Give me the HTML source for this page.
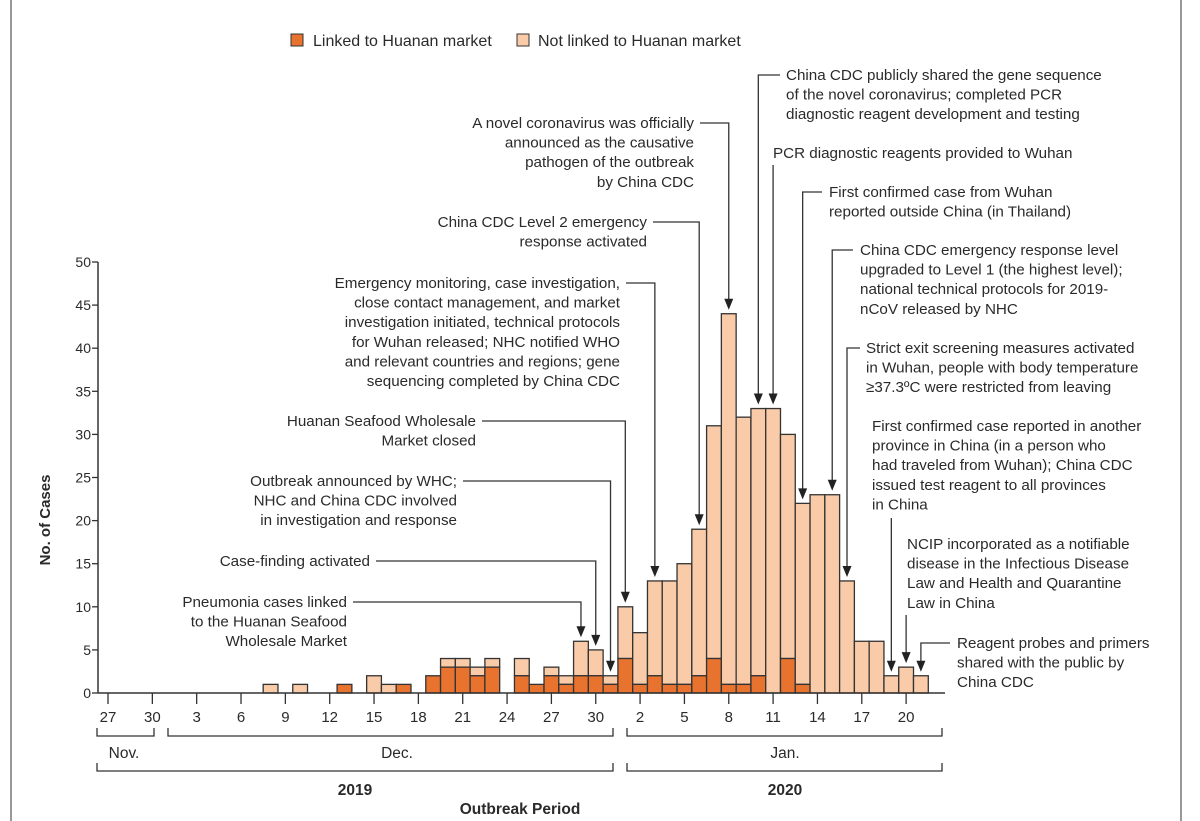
<!DOCTYPE html>
<html><head><meta charset="utf-8">
<style>
html,body{margin:0;padding:0;background:#fff;}
svg{display:block;font-family:"Liberation Sans",sans-serif;}
text{fill:#2a2a2a;}
</style></head>
<body>
<svg id="chart" width="1200" height="821" viewBox="0 0 1200 821">
  <line x1="11" y1="0" x2="11" y2="821" stroke="#777" stroke-width="1.5"/>
  <line x1="1181" y1="0" x2="1181" y2="821" stroke="#777" stroke-width="1.5"/>
  <g>
    <rect x="291" y="34" width="12" height="12" fill="#e8732f" stroke="#333"/>
    <text x="313" y="46" font-size="16">Linked to Huanan market</text>
    <rect x="517" y="34" width="12" height="12" fill="#f9cba8" stroke="#333"/>
    <text x="538" y="46" font-size="16">Not linked to Huanan market</text>
  </g>
  <g id="bars"></g>
  <g id="axes"></g>
  <g id="notes"></g>
  <text transform="translate(50,520) rotate(-90)" text-anchor="middle" font-size="15" font-weight="bold">No. of Cases</text>
  <text x="520" y="814" text-anchor="middle" font-size="15.5" font-weight="bold">Outbreak Period</text>
</svg>
<script>
const dates = ["2019-12-08","2019-12-10","2019-12-13","2019-12-15","2019-12-16","2019-12-17","2019-12-19","2019-12-20","2019-12-21","2019-12-22","2019-12-23","2019-12-25","2019-12-26","2019-12-27","2019-12-28","2019-12-29","2019-12-30","2019-12-31","2020-01-01","2020-01-02","2020-01-03","2020-01-04","2020-01-05","2020-01-06","2020-01-07","2020-01-08","2020-01-09","2020-01-10","2020-01-11","2020-01-12","2020-01-13","2020-01-14","2020-01-15","2020-01-16","2020-01-17","2020-01-18","2020-01-19","2020-01-20","2020-01-21"];
const linked = [0,0,1,0,0,1,2,3,3,2,3,2,1,2,1,2,2,1,4,1,2,1,1,2,4,1,1,2,0,4,1,0,0,0,0,0,0,0,0];
const totals = [1,1,1,2,1,1,2,4,4,3,4,4,1,3,2,6,5,2,10,7,13,13,15,19,31,44,32,33,33,30,22,23,23,13,6,6,2,3,2];
const yTicks = [0,5,10,15,20,25,30,35,40,45,50];
const xTickLabels = ["27","30","3","6","9","12","15","18","21","24","27","30","2","5","8","11","14","17","20"];
const xTickDates = ["2019-11-27","2019-11-30","2019-12-03","2019-12-06","2019-12-09","2019-12-12","2019-12-15","2019-12-18","2019-12-21","2019-12-24","2019-12-27","2019-12-30","2020-01-02","2020-01-05","2020-01-08","2020-01-11","2020-01-14","2020-01-17","2020-01-20"];

const NS="http://www.w3.org/2000/svg";
const X0=108, DAY=14.78, Y0=693, YU=8.62;
const origin=Date.UTC(2019,10,27);
function dayIdx(s){const p=s.split("-");return Math.round((Date.UTC(+p[0],+p[1]-1,+p[2])-origin)/86400000);}
function xs(s){return X0+DAY*dayIdx(s);}
function ys(v){return Y0-v*YU;}
function mk(tag,attrs,parent){const e=document.createElementNS(NS,tag);for(const k in attrs)e.setAttribute(k,attrs[k]);parent.appendChild(e);return e;}

const bars=document.getElementById("bars");
dates.forEach((d,i)=>{
  const cx=xs(d), l=cx-DAY/2;
  if(totals[i]>linked[i]){
    const r=mk("rect",{x:l,y:ys(totals[i]),width:DAY,height:(totals[i]-linked[i])*YU,fill:"#f9cba8",stroke:"#333","stroke-width":1.3},bars);
    
    
  }
  if(linked[i]>0){
    const r=mk("rect",{x:l,y:ys(linked[i]),width:DAY,height:linked[i]*YU,fill:"#e8732f",stroke:"#333","stroke-width":1.3},bars);
    
    
  }
});

const axes=document.getElementById("axes");
let a=mk("line",{x1:98,y1:ys(50),x2:98,y2:Y0,stroke:"#333","stroke-width":1.5},axes);


a=mk("line",{x1:98,y1:Y0,x2:945,y2:Y0,stroke:"#333","stroke-width":1.5},axes);


yTicks.forEach(v=>{
  const t=mk("line",{x1:92,y1:ys(v),x2:98,y2:ys(v),stroke:"#333","stroke-width":1.3},axes);
  
  
  const tx=mk("text",{x:91,y:ys(v)+5,"text-anchor":"end","font-size":14},axes);
  tx.textContent=v;
  
  
});
xTickDates.forEach((d,i)=>{
  const t=mk("line",{x1:xs(d),y1:Y0,x2:xs(d),y2:Y0+11,stroke:"#333","stroke-width":1.3},axes);
  
  
  const tx=mk("text",{x:xs(d),y:Y0+29,"text-anchor":"middle","font-size":15},axes);
  tx.textContent=xTickLabels[i];
  
  
});
function bracket(x1,x2,y,name){
  const p=mk("path",{d:`M${x1},${y-8}V${y}H${x2}V${y-8}`,fill:"none",stroke:"#333","stroke-width":1.3},axes);
  
  
}
bracket(97,154,736,'bracket-nov');bracket(168,613,736,'bracket-dec');bracket(627,942,736,'bracket-jan');
bracket(97,613,771,'bracket-2019');bracket(627,942,771,'bracket-2020');
[["Nov.",124,758,"normal","month-label-nov"],["Dec.",397,758,"normal","month-label-dec"],["Jan.",785,758,"normal","month-label-jan"],["2019",355,795,"bold","year-label-2019"],["2020",785,795,"bold","year-label-2020"]].forEach(m=>{
  const tx=mk("text",{x:m[1],y:m[2],"text-anchor":"middle","font-size":15.5,"font-weight":m[3]},axes);
  tx.textContent=m[0];
  
  
});

const notes=document.getElementById("notes");
const LH=19.6;
function arrowTo(x,yTip,g){
  mk("path",{d:`M${x-4.5},${yTip-11}L${x+4.5},${yTip-11}L${x},${yTip}Z`,fill:"#222"},g);
}
function note(name,lines,side,tx,ty,date,lineY,startX){
  const g=mk("g",{},notes);
  
  
  lines.forEach((s,i)=>{
    const t=mk("text",{x:tx,y:ty+i*LH,"font-size":15.2,"text-anchor":side==="left"?"end":"start"},g);
    t.textContent=s;
  });
  const i=dates.indexOf(date);
  const ax=xs(date), tip=ys(totals[i])-4;
  let d;
  if(lineY===null){d=`M${ax},${startX}V${tip-10}`;}
  else{d=`M${startX},${lineY}H${ax}V${tip-10}`;}
  mk("path",{d:d,fill:"none",stroke:"#333","stroke-width":1.3},g);
  arrowTo(ax,tip,g);
}
note("note-novel-coronavirus",["A novel coronavirus was officially","announced as the causative","pathogen of the outbreak","by China CDC"],"left",694,128,"2020-01-08",123,700);
note("note-level2",["China CDC Level 2 emergency","response activated"],"left",647,227,"2020-01-06",222,653);
note("note-emergency-monitoring",["Emergency monitoring, case investigation,","close contact management, and market","investigation initiated, technical protocols","for Wuhan released; NHC notified WHO","and relevant countries and regions; gene","sequencing completed by China CDC"],"left",620,288,"2020-01-03",283,626);
note("note-market-closed",["Huanan Seafood Wholesale","Market closed"],"left",476,426,"2020-01-01",421,482);
note("note-outbreak-announced",["Outbreak announced by WHC;","NHC and China CDC involved","in investigation and response"],"left",457,486,"2019-12-31",481,463);
note("note-case-finding",["Case-finding activated"],"left",370,566,"2019-12-30",561,376);
note("note-pneumonia",["Pneumonia cases linked","to the Huanan Seafood","Wholesale Market"],"left",347,607,"2019-12-29",602,353);
note("note-gene-sequence",["China CDC publicly shared the gene sequence","of the novel coronavirus; completed PCR","diagnostic reagent development and testing"],"right",786,80,"2020-01-10",75,780);
note("note-pcr-reagents",["PCR diagnostic reagents provided to Wuhan"],"right",773,158,"2020-01-11",null,165);
note("note-thailand",["First confirmed case from Wuhan","reported outside China (in Thailand)"],"right",829,197,"2020-01-13",192,822);
note("note-level1",["China CDC emergency response level","upgraded to Level 1 (the highest level);","national technical protocols for 2019-","nCoV released by NHC"],"right",860,255,"2020-01-15",250,853);
note("note-exit-screening",["Strict exit screening measures activated","in Wuhan, people with body temperature","\u226537.3\u00BAC were restricted from leaving"],"right",866,353,"2020-01-16",348,860);
note("note-another-province",["First confirmed case reported in another","province in China (in a person who","had traveled from Wuhan); China CDC","issued test reagent to all provinces","in China"],"right",872,431,"2020-01-19",null,518);
note("note-ncip",["NCIP incorporated as a notifiable","disease in the Infectious Disease","Law and Health and Quarantine","Law in China"],"right",907,549,"2020-01-20",null,615);
note("note-reagent-probes",["Reagent probes and primers","shared with the public by","China CDC"],"right",957,648,"2020-01-21",643,950);
</script>
</body></html>
